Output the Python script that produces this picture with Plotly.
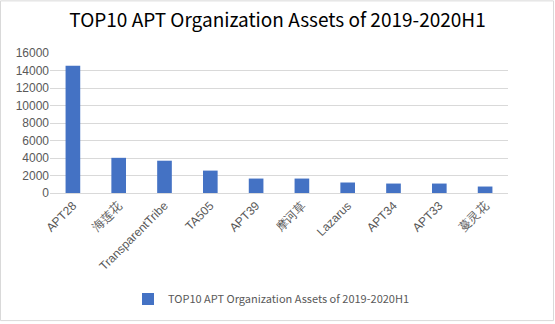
import plotly.graph_objects as go

categories = ["APT28", "海莲花", "TransparentTribe", "TA505", "APT39", "摩诃草", "Lazarus", "APT34", "APT33", "蔓灵花"]
values = [14550, 4020, 3690, 2560, 1650, 1650, 1200, 1080, 1080, 740]
series_name = "TOP10 APT Organization Assets of 2019-2020H1"
y_ticks = [0, 2000, 4000, 6000, 8000, 10000, 12000, 14000, 16000]

W, H = 555, 324
ML, MR, MT, MB = 50, 47, 53, 130
pw, ph = W - ML - MR, H - MT - MB

fig = go.Figure(go.Bar(
    x=categories, y=values, name=series_name,
    marker=dict(color="#4472C4", line=dict(width=0)),
    showlegend=True,
))

fig.update_layout(
    width=W, height=H,
    margin=dict(l=ML, r=MR, t=MT, b=MB),
    paper_bgcolor="white", plot_bgcolor="white",
    bargap=0.68,
    title=dict(text="TOP10 APT Organization Assets of 2019-2020H1",
               x=0.5, xanchor="center", y=1 - 20.5 / H, yanchor="middle",
               font=dict(family="Noto Sans CJK SC", size=19, color="#000000")),
    legend=dict(orientation="h", x=(128 - ML) / pw, xanchor="left", y=-(299 - MT - ph) / ph, yanchor="middle",
                font=dict(family="Noto Sans CJK SC", size=11, color="#595959"),
                itemwidth=30),
    xaxis=dict(tickangle=-45, tickfont=dict(family="Liberation Sans, Arial", size=12, color="#595959"),
               showline=True, linecolor="#d9d9d9", linewidth=1, ticks="", showgrid=False),
    yaxis=dict(range=[0, 16000], tickvals=y_ticks, showgrid=True, gridcolor="#d9d9d9", gridwidth=1,
               tickfont=dict(family="Liberation Sans, Arial", size=12, color="#595959"),
               zeroline=False, ticks="", ticklen=0, tickformat="d"),
    shapes=[dict(type="rect", xref="paper", yref="paper",
                 x0=-(ML - 0.5) / pw, x1=1 + (MR - 1.5) / pw,
                 y0=-(MB - 1.5) / ph, y1=1 + (MT - 0.5) / ph,
                 line=dict(color="#d9d9d9", width=1), layer="below")],
)

fig.write_html("out.html")
